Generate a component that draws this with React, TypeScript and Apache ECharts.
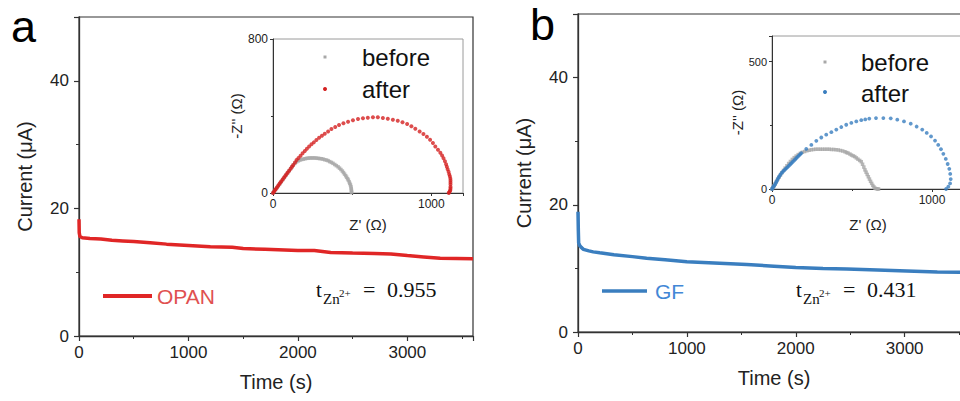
import React, { useEffect, useRef } from "react";
import * as echarts from "echarts";

// ---------- Data ----------
const timeA = [0, 2, 8, 30, 100, 200, 300, 400, 500, 650, 800, 1000, 1200, 1400, 1500, 1700, 2000, 2150, 2300, 2500, 2700, 2850, 3000, 3150, 3300, 3450, 3600];
const currentA = [18.3, 16.2, 15.6, 15.4, 15.3, 15.2, 15.0, 14.9, 14.8, 14.6, 14.4, 14.2, 14.0, 13.9, 13.7, 13.6, 13.4, 13.4, 13.1, 13.0, 12.95, 12.85, 12.6, 12.4, 12.2, 12.15, 12.1];

const timeB = [0, 3, 6, 15, 30, 50, 100, 140, 200, 330, 500, 630, 800, 1000, 1300, 1550, 1800, 2000, 2250, 2470, 2750, 3020, 3300, 3510, 3600];
const currentB = [18.9, 16.0, 14.0, 13.6, 13.3, 13.0, 12.75, 12.6, 12.45, 12.15, 11.85, 11.6, 11.35, 11.05, 10.8, 10.6, 10.35, 10.15, 10.0, 9.9, 9.75, 9.6, 9.45, 9.4, 9.35];

// Nyquist (Z', -Z'') inset a
const beforeA = [[0,0],[8,9],[16,18],[25,28],[34,38],[43,48],[52,59],[62,70],[72,81],[82,93],[92,104],[102,116],[112,127],[120,136],[128,145],[138,154],[149,162],[160,167],[170,171],[181,174],[191,176],[202,178],[212,180],[222,181],[233,182],[243,182],[253,182],[264,182],[274,181],[285,180],[295,179],[306,178],[316,176],[327,173],[338,171],[348,168],[358,163],[369,159],[379,154],[390,148],[400,142],[411,136],[420,129],[429,122],[438,114],[445,106],[452,98],[459,90],[465,82],[471,74],[476,67],[481,58],[485,50],[489,42],[492,33],[494,24],[495,16],[496,8],[496,2]];
const afterA = [[0,0],[6,7],[12,14],[18,21],[25,29],[32,37],[39,45],[46,53],[53,61],[61,70],[69,79],[77,88],[85,97],[93,106],[102,116],[111,126],[120,136],[128,145],[139,158],[149,171],[161,182],[174,194],[187,206],[201,218],[214,230],[228,242],[243,253],[258,263],[274,275],[291,287],[309,297],[327,308],[348,320],[369,332],[393,343],[417,353],[445,362],[474,370],[505,378],[537,384],[568,388],[599,391],[631,393],[662,393],[694,390],[725,386],[757,381],[788,375],[818,367],[847,358],[874,347],[899,334],[926,320],[950,306],[972,292],[992,277],[1010,260],[1025,242],[1042,225],[1057,209],[1068,195],[1077,180],[1086,165],[1093,149],[1098,136],[1103,123],[1109,110],[1113,97],[1117,87],[1120,76],[1121,66],[1121,56],[1121,45],[1121,33],[1121,25],[1120,16],[1118,10],[1113,4],[1110,0]];

// Nyquist inset b
const beforeB = [[0,0],[6,6],[12,12],[19,20],[27,29],[35,38],[44,46],[53,55],[62,64],[72,73],[82,82],[93,91],[104,100],[115,108],[127,116],[139,123],[151,129],[164,135],[177,140],[190,144],[204,147],[218,150],[232,152],[246,154],[260,155],[274,156],[288,156],[302,156],[316,156],[330,156],[344,156],[358,156],[372,155],[386,155],[400,154],[414,153],[428,151],[442,149],[456,146],[466,143],[475,141],[487,137],[497,133],[507,130],[517,127],[527,122],[537,117],[548,112],[558,107],[566,97],[574,86],[581,75],[588,66],[595,57],[602,48],[609,39],[616,30],[623,22],[630,14],[637,8],[644,3],[652,1],[660,0],[666,0]];
const afterB = [[0,0],[4,4],[9,9],[14,13],[19,18],[24,24],[29,30],[34,36],[39,43],[45,49],[52,55],[59,62],[66,67],[74,72],[82,77],[89,81],[97,86],[105,91],[113,96],[121,101],[129,106],[137,111],[145,116],[152,121],[160,126],[168,131],[176,136],[183,141],[214,157],[246,173],[277,189],[308,202],[339,213],[371,223],[402,233],[433,243],[464,252],[496,259],[527,265],[558,270],[583,273],[608,276],[650,278],[696,278],[742,277],[783,272],[825,265],[867,256],[904,245],[939,233],[967,220],[994,206],[1019,190],[1039,173],[1056,156],[1071,138],[1086,118],[1098,98],[1108,79],[1114,59],[1117,39],[1113,22],[1102,9],[1088,0]];

const timeTicks = { min: 0, max: 3600, interval: 1000 };
const currentTicks = { min: 0, max: 50, interval: 20 };

// ---------- Styles ----------
const SANS = "'Liberation Sans', Arial, sans-serif";
const SERIF = "'Liberation Serif', 'Times New Roman', serif";
const RED = "#e02626";
const BLUE = "#3a7ebf";
const GRAY = "#a8a8a8";
const AX = "#333333";
const plain = (v: number) => String(v);

function mainX(gridIndex: number) {
  return {
    type: "value", gridIndex, ...timeTicks,
    axisLine: { show: true, onZero: false, lineStyle: { color: AX, width: 1.3 } },
    axisTick: { show: true, inside: false, length: 5, lineStyle: { color: AX, width: 1.2 } },
    minorTick: { show: true, splitNumber: 2, length: 3, lineStyle: { color: AX, width: 1 } },
    splitLine: { show: false },
    axisLabel: { fontSize: 17, color: "#222", fontFamily: SANS, margin: 8, formatter: plain, showMaxLabel: false },
    name: "Time (s)", nameLocation: "middle", nameGap: 36,
    nameTextStyle: { fontSize: 20, color: "#222", fontFamily: SANS },
  };
}
function mainY(gridIndex: number) {
  return {
    type: "value", gridIndex, ...currentTicks,
    axisLine: { show: true, onZero: false, lineStyle: { color: AX, width: 1.3 } },
    axisTick: { show: true, inside: false, length: 5, lineStyle: { color: AX, width: 1.2 } },
    minorTick: { show: true, splitNumber: 2, length: 3, lineStyle: { color: AX, width: 1 } },
    splitLine: { show: false },
    axisLabel: { fontSize: 17, color: "#222", fontFamily: SANS, margin: 10, formatter: plain, showMaxLabel: false },
    name: "Current (μA)", nameLocation: "middle", nameGap: 44,
    nameTextStyle: { fontSize: 20, color: "#222", fontFamily: SANS },
  };
}
function insetX(gridIndex: number, gap: number) {
  return {
    type: "value", gridIndex, min: 0, max: 1200, interval: 1000,
    axisLine: { show: true, onZero: false, lineStyle: { color: AX, width: 1 } },
    axisTick: { show: true, inside: false, length: 3, lineStyle: { color: AX } },
    minorTick: { show: true, splitNumber: 2, length: 2, lineStyle: { color: AX } },
    splitLine: { show: false },
    axisLabel: { fontSize: 12, color: "#222", fontFamily: SANS, margin: 5, formatter: plain, showMaxLabel: false },
    name: "Z' (Ω)", nameLocation: "middle", nameGap: gap,
    nameTextStyle: { fontSize: 15, color: "#222", fontFamily: SANS },
  };
}
function insetY(gridIndex: number, max: number, interval: number, fontSize: number, showMax: boolean) {
  return {
    type: "value", gridIndex, min: 0, max, interval,
    axisLine: { show: true, onZero: false, lineStyle: { color: AX, width: 1 } },
    axisTick: { show: true, inside: false, length: 3, lineStyle: { color: AX } },
    minorTick: { show: true, splitNumber: 2, length: 2, lineStyle: { color: AX } },
    splitLine: { show: false },
    axisLabel: { fontSize, color: "#222", fontFamily: SANS, margin: 5, formatter: plain, showMaxLabel: showMax },
    name: "-Z'' (Ω)", nameLocation: "middle", nameGap: 24,
    nameTextStyle: { fontSize: 15, color: "#222", fontFamily: SANS },
  };
}

function txt(x: number, y: number, text: string, fontSize: number, fill: string, fontFamily = SANS, extra: any = {}) {
  return {
    type: "text", x, y, z: 100,
    style: { text, fontSize, fill, fontFamily, verticalAlign: "middle", align: "left", ...extra },
  };
}

function formula(dx: number, dy: number, value: string) {
  return [
    txt(316 + dx, 289.5 + dy, "t", 21, "#111", SERIF),
    txt(323 + dx, 298.5 + dy, "Zn", 15, "#111", SERIF),
    txt(339 + dx, 292.5 + dy, "2+", 11, "#111", SERIF),
    txt(363 + dx, 289.5 + dy, "=", 22, "#111", SERIF),
    txt(387 + dx, 289.5 + dy, value, 22, "#111", SERIF),
  ];
}

export default function App() {
  const ref = useRef<HTMLDivElement>(null);
  useEffect(() => {
    if (!ref.current) return;
    const chart = echarts.init(ref.current, undefined, { renderer: "svg" });
    const option: any = {
      animation: false,
      backgroundColor: "#ffffff",
      grid: [
        { left: 79, top: 17, width: 394, height: 319, show: true, borderColor: AX, borderWidth: 1.2, backgroundColor: "transparent" },
        { left: 578, top: 14, width: 392, height: 318, show: true, borderColor: AX, borderWidth: 1.2, backgroundColor: "transparent" },
        { left: 273, top: 39, width: 190, height: 154, show: true, borderColor: "#9a9a9a", borderWidth: 1, backgroundColor: "#fff" },
        { left: 772, top: 36, width: 192, height: 153, show: true, borderColor: "#9a9a9a", borderWidth: 1, backgroundColor: "#fff" },
      ],
      xAxis: [mainX(0), mainX(1), insetX(2, 24), insetX(3, 28)],
      yAxis: [mainY(0), mainY(1), insetY(2, 800, 800, 12, true), insetY(3, 600, 500, 11, false)],
      series: [
        {
          type: "line", xAxisIndex: 0, yAxisIndex: 0, showSymbol: false,
          data: timeA.map((t, i) => [t, currentA[i]]),
          lineStyle: { color: RED, width: 3.5 }, itemStyle: { color: RED },
        },
        {
          type: "line", xAxisIndex: 1, yAxisIndex: 1, showSymbol: false,
          data: timeB.map((t, i) => [t, currentB[i]]),
          lineStyle: { color: BLUE, width: 3.5 }, itemStyle: { color: BLUE },
        },
        { type: "scatter", xAxisIndex: 2, yAxisIndex: 2, data: beforeA, symbol: "rect", symbolSize: 3.5, itemStyle: { color: GRAY }, z: 3 },
        { type: "scatter", xAxisIndex: 2, yAxisIndex: 2, data: afterA, symbol: "circle", symbolSize: 4, itemStyle: { color: "#d42020" }, z: 4 },
        { type: "scatter", xAxisIndex: 3, yAxisIndex: 3, data: beforeB, symbol: "rect", symbolSize: 3.5, itemStyle: { color: GRAY }, z: 3 },
        { type: "scatter", xAxisIndex: 3, yAxisIndex: 3, data: afterB, symbol: "circle", symbolSize: 3.8, itemStyle: { color: BLUE }, z: 4 },
      ],
      graphic: [
        // panel labels
        txt(11, 26, "a", 45, "#000"),
        txt(530, 24, "b", 45, "#000"),
        // main legends
        { type: "line", z: 100, shape: { x1: 103, y1: 296, x2: 152, y2: 296 }, style: { stroke: RED, lineWidth: 4 } },
        txt(157, 296, "OPAN", 21, "#e05050"),
        { type: "line", z: 100, shape: { x1: 602, y1: 291, x2: 647, y2: 291 }, style: { stroke: BLUE, lineWidth: 3.5 } },
        txt(655, 291, "GF", 21, "#4287d6"),
        // formulas
        ...formula(0, 0, "0.955"),
        ...formula(480, 0, "0.431"),
        // inset legends
        { type: "rect", z: 100, shape: { x: 323.5, y: 55.5, width: 3, height: 3 }, style: { fill: GRAY } },
        txt(362, 57, "before", 24, "#111"),
        { type: "circle", z: 100, shape: { cx: 325, cy: 89, r: 2 }, style: { fill: "#d42020" } },
        txt(362, 89, "after", 24, "#111"),
        { type: "rect", z: 100, shape: { x: 823.5, y: 60.5, width: 3, height: 3 }, style: { fill: GRAY } },
        txt(861, 62, "before", 24, "#111"),
        { type: "circle", z: 100, shape: { cx: 825, cy: 92, r: 2 }, style: { fill: BLUE } },
        txt(861, 93, "after", 24, "#111"),
      ],
    };
    chart.setOption(option);
    return () => chart.dispose();
  }, []);
  return (
    <div style={{ position: "fixed", left: 0, top: 0, width: 960, height: 401, overflow: "hidden", background: "#fff" }}>
      <div ref={ref} style={{ position: "absolute", left: 0, top: 0, width: 1010, height: 401 }} />
    </div>
  );
}
